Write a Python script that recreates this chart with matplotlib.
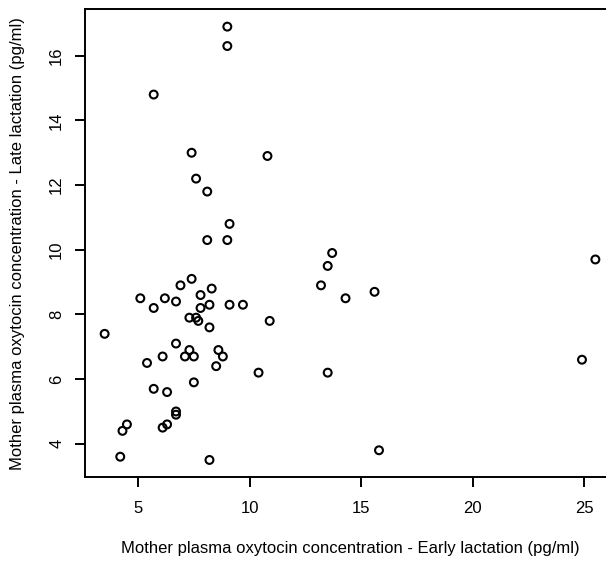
import numpy as np
import matplotlib
matplotlib.use("Agg")
import matplotlib.pyplot as plt

plt.rcParams["font.family"] = ["Liberation Sans", "DejaVu Sans"]

# oxytocin (pg/ml), early vs late lactation
early = [9.0, 9.0, 5.7, 7.4, 10.8, 7.6, 8.1, 9.1, 8.1, 9.0,
         13.7, 13.5, 13.2, 14.3, 7.4, 6.9, 8.3, 7.8, 5.1, 6.2,
         6.7, 5.7, 7.8, 8.2, 9.1, 9.7, 7.3, 7.6, 7.7, 10.9,
         8.2, 3.5, 6.7, 7.3, 8.6, 6.1, 7.1, 7.5, 8.8, 5.4,
         8.5, 10.4, 13.5, 7.5, 5.7, 6.3, 6.7, 6.7, 4.5, 4.3,
         6.3, 6.1, 4.2, 8.2, 15.6, 15.8, 25.5, 24.9]
late = [16.9, 16.3, 14.8, 13.0, 12.9, 12.2, 11.8, 10.8, 10.3, 10.3,
        9.9, 9.5, 8.9, 8.5, 9.1, 8.9, 8.8, 8.6, 8.5, 8.5,
        8.4, 8.2, 8.2, 8.3, 8.3, 8.3, 7.9, 7.9, 7.8, 7.8,
        7.6, 7.4, 7.1, 6.9, 6.9, 6.7, 6.7, 6.7, 6.7, 6.5,
        6.4, 6.2, 6.2, 5.9, 5.7, 5.6, 5.0, 4.9, 4.6, 4.4,
        4.6, 4.5, 3.6, 3.5, 8.7, 3.8, 9.7, 6.6]

x_ticks = [5, 10, 15, 20, 25]
y_ticks = [4, 6, 8, 10, 12, 14, 16]

fig = plt.figure(figsize=(6.06, 5.62), dpi=100)
# axes run past the right edge, the reference is cropped there
ax = fig.add_axes([85 / 606, 1 - 477.3 / 562, 530 / 606, 468 / 562])

ax.scatter(early, late, s=32, facecolors="none", edgecolors="black", linewidths=1.5)

# R-style 4% padding of the data range
def pad(v):
    lo, hi = min(v), max(v)
    d = (hi - lo) * 0.04
    return lo - d, hi + d

ax.set_xlim(*pad(early))
ax.set_ylim(*pad(late))
ax.set_xticks(x_ticks)
ax.set_yticks(y_ticks)

for s in ax.spines.values():
    s.set_linewidth(1.4)
ax.tick_params(direction="out", length=7.5, width=1.4, labelsize=12)
ax.tick_params(axis="x", pad=9.5)
ax.tick_params(axis="y", pad=7.5)
for lab in ax.get_yticklabels():
    lab.set_rotation(90)
    lab.set_va("center")

ax.set_xlabel("Mother plasma oxytocin concentration - Early lactation (pg/ml)", fontsize=12)
ax.set_ylabel("Mother plasma oxytocin concentration - Late lactation (pg/ml)", fontsize=12)
ax.xaxis.label.set_va("baseline")
ax.yaxis.label.set_va("baseline")
ax.yaxis.label.set_rotation_mode("anchor")
ax.xaxis.set_label_coords(350 / 606, 1 - 553.3 / 562, transform=fig.transFigure)
ax.yaxis.set_label_coords(21.7 / 606, 1 - 243.3 / 562, transform=fig.transFigure)

fig.savefig("out.png", dpi=100)
